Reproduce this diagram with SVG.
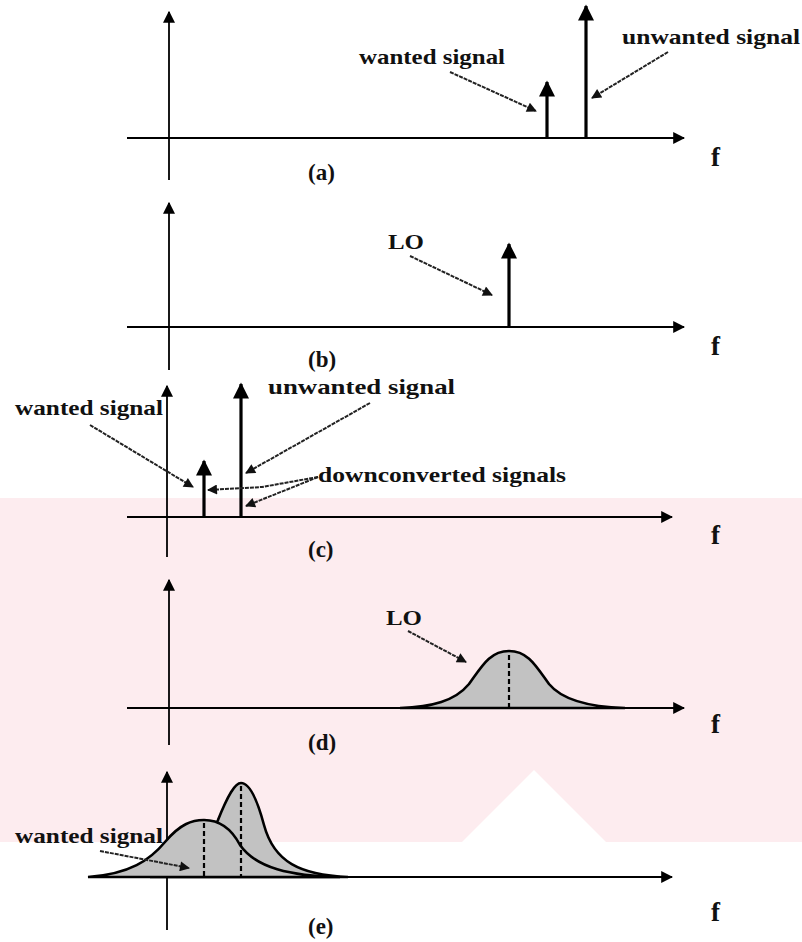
<svg xmlns="http://www.w3.org/2000/svg" width="802" height="942" viewBox="0 0 802 942">
<defs>
<style>
.ax{stroke:#000;stroke-width:1.8;fill:none}
.sp{stroke:#000;stroke-width:3.2;fill:none}
.pt{stroke:#222;stroke-width:2;fill:none;stroke-dasharray:4 1}
.t{font-family:"Liberation Serif","Times New Roman",serif;font-size:21px;font-weight:bold;fill:#111}
.f{font-size:27px}
.lb{font-size:23px}
.cv{fill:#c2c2c2;stroke:#000;stroke-width:2.6}
.dash{stroke:#000;stroke-width:2.2;stroke-dasharray:5 3;fill:none}
.wm{fill:#fdecef}
</style>
<marker id="ah" viewBox="0 0 10 10" refX="9" refY="5" markerWidth="12" markerHeight="12" markerUnits="userSpaceOnUse" orient="auto"><path d="M0,0 L10,5 L0,10 z" fill="#000"/></marker>
<marker id="bh" viewBox="0 0 10 10" refX="9" refY="5" markerWidth="20" markerHeight="16" markerUnits="userSpaceOnUse" orient="auto"><path d="M0,0 L10,5 L0,10 z" fill="#000"/></marker>
<marker id="ph" viewBox="0 0 10 10" refX="9" refY="5" markerWidth="12" markerHeight="10" markerUnits="userSpaceOnUse" orient="auto"><path d="M0,0 L10,5 L0,10 z" fill="#111"/></marker>
</defs>
<rect width="802" height="942" fill="#fff"/>
<g id="watermark">
<rect class="wm" x="0" y="498" width="802" height="344"/>
<polygon fill="#fff" points="534,770 462,842 606,842"/>
</g>
<g id="panel-a">
<line class="ax" x1="169" y1="180" x2="169" y2="12" marker-end="url(#ah)"/>
<line class="ax" x1="127" y1="138" x2="684" y2="138" marker-end="url(#ah)"/>
<line class="sp" x1="547" y1="138" x2="547" y2="82" marker-end="url(#bh)"/>
<line class="sp" x1="586" y1="138" x2="586" y2="6" marker-end="url(#bh)"/>
<text class="t" x="359" y="64" textLength="146" lengthAdjust="spacingAndGlyphs">wanted signal</text>
<text class="t" x="622" y="44" textLength="178" lengthAdjust="spacingAndGlyphs">unwanted signal</text>
<text class="t f" x="711" y="166">f</text>
<text class="t lb" x="308" y="180">(a)</text>
</g>
<g id="panel-b">
<line class="ax" x1="169" y1="370" x2="169" y2="203" marker-end="url(#ah)"/>
<line class="ax" x1="127" y1="327" x2="684" y2="327" marker-end="url(#ah)"/>
<line class="sp" x1="509" y1="327" x2="509" y2="244" marker-end="url(#bh)"/>
<text class="t" x="388" y="249" textLength="36" lengthAdjust="spacingAndGlyphs">LO</text>
<text class="t f" x="711" y="355">f</text>
<text class="t lb" x="308" y="367">(b)</text>
</g>
<g id="panel-c">
<line class="ax" x1="167" y1="557" x2="167" y2="386" marker-end="url(#ah)"/>
<line class="ax" x1="127" y1="517" x2="672" y2="517" marker-end="url(#ah)"/>
<line class="sp" x1="204" y1="517" x2="204" y2="461" marker-end="url(#bh)"/>
<line class="sp" x1="241" y1="517" x2="241" y2="384" marker-end="url(#bh)"/>
<text class="t" x="15" y="415" textLength="148" lengthAdjust="spacingAndGlyphs">wanted signal</text>
<text class="t" x="268" y="394" textLength="187" lengthAdjust="spacingAndGlyphs">unwanted signal</text>
<text class="t" x="318" y="482" textLength="248" lengthAdjust="spacingAndGlyphs">downconverted signals</text>
<text class="t f" x="711" y="544">f</text>
<text class="t lb" x="308" y="557">(c)</text>
</g>
<g id="panel-d">
<line class="ax" x1="169" y1="745" x2="169" y2="580" marker-end="url(#ah)"/>
<line class="ax" x1="127" y1="708" x2="684" y2="708" marker-end="url(#ah)"/>
<path class="cv" d="M400,708 C432,707 455,701 469,684 C482,666 490,651 509,651 C528,651 536,666 549,684 C563,701 590,707 625,708 Z"/>
<line class="dash" x1="509" y1="655" x2="509" y2="708"/>
<text class="t" x="386" y="625" textLength="36" lengthAdjust="spacingAndGlyphs">LO</text>
<text class="t f" x="711" y="733">f</text>
<text class="t lb" x="308" y="750">(d)</text>
</g>
<g id="panel-e">
<line class="ax" x1="167" y1="930" x2="167" y2="772" marker-end="url(#ah)"/>
<line class="ax" x1="88" y1="877" x2="672" y2="877" marker-end="url(#ah)"/>
<path class="cv" d="M150,877 C190,875 205,850 218,820 C228,795 235,783 241,783 C248,783 256,795 264,825 C274,862 300,875 348,877 Z"/>
<path class="cv" d="M88,877 C130,874 150,860 165,842 C180,824 192,820 204,820 C216,820 230,826 240,845 C256,868 290,876 340,877 Z"/>
<line class="dash" x1="204" y1="823" x2="204" y2="877"/>
<line class="dash" x1="241" y1="786" x2="241" y2="877"/>
<text class="t" x="15" y="843" textLength="148" lengthAdjust="spacingAndGlyphs">wanted signal</text>
<text class="t f" x="711" y="921">f</text>
<text class="t lb" x="308" y="934">(e)</text>
</g>
<g id="connectors">
<line class="pt" x1="450" y1="72" x2="536" y2="111" marker-end="url(#ph)"/>
<line class="pt" x1="668" y1="52" x2="592" y2="98" marker-end="url(#ph)"/>
<line class="pt" x1="410" y1="256" x2="492" y2="295" marker-end="url(#ph)"/>
<line class="pt" x1="90" y1="425" x2="193" y2="487" marker-end="url(#ph)"/>
<line class="pt" x1="370" y1="403" x2="246" y2="473" marker-end="url(#ph)"/>
<polyline class="pt" points="318,477 262,487 208,490" marker-end="url(#ph)"/>
<line class="pt" x1="318" y1="477" x2="246" y2="506" marker-end="url(#ph)"/>
<line class="pt" x1="408" y1="631" x2="466" y2="662" marker-end="url(#ph)"/>
<line class="pt" x1="100" y1="851" x2="189" y2="868" marker-end="url(#ph)"/>
</g>
</svg>
